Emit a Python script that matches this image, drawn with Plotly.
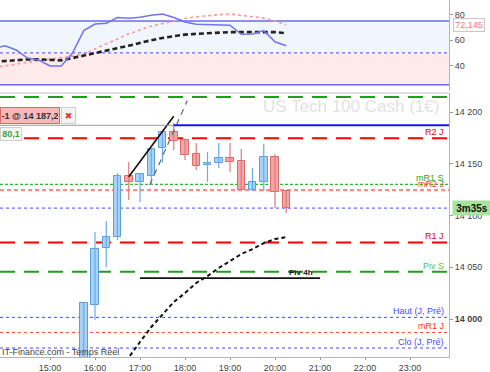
import plotly.graph_objects as go

DAY = "2023-06-20 "

# ---------------- data ----------------
candle_times = ["15:45", "16:00", "16:15", "16:30", "16:45", "17:00", "17:15", "17:30", "17:45",
                "18:00", "18:15", "18:30", "18:45", "19:00", "19:15", "19:30", "19:45", "20:00", "20:15"]
candle_open = [13945, 14013.5, 14068.6, 14079, 14138.2, 14132.4, 14138.2, 14165.2, 14180.7,
               14173, 14159.4, 14148.8, 14150.7, 14155.6, 14152.7, 14124.6, 14132.4, 14156.5, 14123.7]
candle_high = [14016, 14084, 14094.7, 14141, 14151.7, 14140.5, 14164.5, 14181.2, 14189.4,
               14173.5, 14170, 14161.4, 14170, 14170, 14164.3, 14145.9, 14169, 14159.4, 14123.7]
candle_low = [13940, 13999, 14050.2, 14076.3, 14115, 14113, 14129.5, 14150.7, 14163.3,
              14153.6, 14144, 14132.4, 14145.9, 14142, 14124.6, 14123.7, 14123.7, 14107.2, 14102.4]
candle_close = [14015.5, 14067.6, 14079.2, 14138.2, 14132.4, 14140, 14164.3, 14180.7, 14172,
                14158.5, 14147.8, 14150.7, 14155.6, 14151.7, 14124.6, 14132.4, 14156.5, 14122.7, 14107.2]

ma_times = ["16:30", "16:45", "17:00", "17:15", "17:30", "17:45", "18:00", "18:15", "18:30",
            "18:45", "19:00", "19:15", "19:30", "19:45", "20:00", "20:15"]
ma_values = [13948, 13963.5, 13977.8, 13992.3, 14003.9, 14016.4, 14025.1, 14034.8, 14041.5,
             14049.3, 14056, 14062.8, 14067.6, 14073.4, 14077.3, 14079.2]

rsi_times = ["13:45", "14:00", "14:15", "14:30", "14:45", "15:00", "15:15", "15:30", "15:45",
             "16:00", "16:15", "16:30", "16:45", "17:00", "17:15", "17:30", "17:45", "18:00",
             "18:15", "18:30", "18:45", "19:00", "19:15", "19:30", "19:45", "20:00", "20:15"]
rsi_values = [53.5, 55.7, 52.3, 46, 44.5, 39.8, 39.8, 50, 67.5,
              72.7, 73.3, 77.8, 77.2, 78, 79.6, 80.5, 77.8, 74.3,
              72.5, 72.2, 72, 71.8, 64.6, 64.8, 67.5, 58.8, 55.7]
rsi_signal = [38.5, 40, 41.5, 42.8, 44, 45, 46, 47.5, 49.3,
              53, 57.3, 61, 65, 68.3, 71, 73, 75, 77,
              78.3, 79.4, 80, 80.5, 79.5, 78.6, 77.3, 75, 72.145]
rsi_slow = [43, 43.6, 44.5, 45, 45, 44.8, 44.2, 46, 47.8,
            49.8, 51.7, 53.8, 55.7, 58, 60, 61.8, 63.2, 64.4,
            65, 65.6, 66, 66.3, 66.3, 66.4, 66.7, 66.3, 65.5]

level_names = ["R1 S", "R2 J", "mR1 S", "mR2 J", "", "R1 J", "Piv S", "Haut (J, Pré)", "mR1 J", "Clo (J, Pré)"]
level_values = [14214.5, 14174.6, 14130.1, 14124.6, 14107.2, 14074, 14045.7, 14001.6, 13987, 13972]

order_price = 14187.2
order_time = "17:45"
trend_times = ["16:45", "17:45"]
trend_prices = [14137.5, 14196]
dash_times = ["17:13", "18:03"]
dash_prices = [14129.5, 14211]
piv4h_times = ["17:00", "21:00"]
piv4h_price = 14039.5

price_ticks = [14000, 14050, 14100, 14150, 14200]
price_tick_text = ["<b>14 000</b>", "14 050", "14 100", "14 150", "14 200"]
rsi_ticks = [40, 60, 80]
hour_ticks = ["15:00", "16:00", "17:00", "18:00", "19:00", "20:00", "21:00", "22:00", "23:00"]

# ---------------- styles ----------------
level_styles = [
    dict(color="#1f9e1f", width=2, dash="15px,9px"),
    dict(color="#ff0000", width=2, dash="15px,9px"),
    dict(color="#33b533", width=1.3, dash="3px,2px"),
    dict(color="#ff8a8a", width=2.2, dash="4px,3px"),
    dict(color="#4646ff", width=1, dash="3px,3px"),
    dict(color="#ff0000", width=2, dash="15px,9px"),
    dict(color="#1f9e1f", width=2, dash="15px,9px"),
    dict(color="#4646ff", width=1, dash="3px,3px"),
    dict(color="#ff4a4a", width=1, dash="3px,3px"),
    dict(color="#4646ff", width=1, dash="3px,3px"),
]
label_colors = ["#3a3", "#e00000", "#2fa02f", "#ff4040", "#000", "#e00000", "#5cc05c", "#4a4aff", "#ff3030", "#4a4aff"]

FONT = "Liberation Sans, Arial, sans-serif"
W, H = 490, 372
ML, MR, MT, MB = 0, 41, 0, 15
PH = H - MT - MB
MAIN_TOP = 93
RSI_BOT = 91


def T(s):
    return DAY + s


def py(pix):
    return (H - MB - pix) / PH


fig = go.Figure()

# RSI panel traces
fig.add_trace(go.Scatter(x=[T(t) for t in rsi_times], y=rsi_signal, mode="lines",
                         line=dict(color="#f39a9a", width=1.6, dash="3px,3px"),
                         xaxis="x2", yaxis="y2", hoverinfo="skip"))
fig.add_trace(go.Scatter(x=[T(t) for t in rsi_times], y=rsi_slow, mode="lines",
                         line=dict(color="#222", width=2.6, dash="5px,3px"),
                         xaxis="x2", yaxis="y2", hoverinfo="skip"))
fig.add_trace(go.Scatter(x=[T(t) for t in rsi_times], y=rsi_values, mode="lines",
                         line=dict(color="#7272f5", width=1.5),
                         xaxis="x2", yaxis="y2", hoverinfo="skip"))

# candle wicks
up_idx = [i for i in range(len(candle_times)) if candle_close[i] >= candle_open[i]]
dn_idx = [i for i in range(len(candle_times)) if candle_close[i] < candle_open[i]]
for idx, col in ((up_idx, "#6aaae8"), (dn_idx, "#e07a7a")):
    wx, wy = [], []
    for i in idx:
        wx += [T(candle_times[i]), T(candle_times[i]), None]
        wy += [candle_low[i], candle_high[i], None]
    fig.add_trace(go.Scatter(x=wx, y=wy, mode="lines", line=dict(color=col, width=1.2),
                             hoverinfo="skip"))

# candle bodies
for idx, fill, border in ((up_idx, "#a9d3f6", "#5a9fe0"), (dn_idx, "#f5a5a5", "#dd6b6b")):
    bx = [T(candle_times[i]) for i in idx]
    base = [min(candle_open[i], candle_close[i]) for i in idx]
    hgt = [max(abs(candle_close[i] - candle_open[i]), 1.2) for i in idx]
    fig.add_trace(go.Bar(x=bx, y=hgt, base=base, width=600000,
                         marker=dict(color=fill, line=dict(color=border, width=1)),
                         hoverinfo="skip"))

# moving average (dotted black)
fig.add_trace(go.Scatter(x=[T(t) for t in ma_times], y=ma_values, mode="lines",
                         line=dict(color="#111", width=2, dash="4px,3px"), hoverinfo="skip"))

# trend lines
fig.add_trace(go.Scatter(x=[T(t) for t in trend_times], y=trend_prices, mode="lines",
                         line=dict(color="#111", width=1.6), hoverinfo="skip"))
fig.add_trace(go.Scatter(x=[T(t) for t in dash_times], y=dash_prices, mode="lines",
                         line=dict(color="#666", width=1.2, dash="6px,5px"), hoverinfo="skip"))
fig.add_trace(go.Scatter(x=[T(t) for t in piv4h_times], y=[piv4h_price, piv4h_price], mode="lines",
                         line=dict(color="#111", width=1.8), hoverinfo="skip"))

# order line (gray to the left, blue to the right)
fig.add_trace(go.Scatter(x=[T("13:50"), T(order_time)], y=[order_price, order_price], mode="lines",
                         line=dict(color="#9a9a9a", width=1), hoverinfo="skip"))
fig.add_trace(go.Scatter(x=[T(order_time), T("23:55")], y=[order_price, order_price], mode="lines",
                         line=dict(color="#1515f0", width=2), hoverinfo="skip"))

shapes = []
# RSI zones
shapes.append(dict(type="rect", xref="paper", yref="y2", x0=0, x1=1, y0=50, y1=75,
                   fillcolor="#f1f6fd", line=dict(width=0), layer="below"))
shapes.append(dict(type="rect", xref="paper", yref="y2", x0=0, x1=1, y0=25, y1=50,
                   fillcolor="#fdebeb", line=dict(width=0), layer="below"))
for lv, dsh in ((75, "solid"), (25, "solid"), (50, "3px,3px")):
    shapes.append(dict(type="line", xref="paper", yref="y2", x0=0, x1=1, y0=lv, y1=lv,
                       line=dict(color="#6a6af0", width=1.5 if dsh == "solid" else 1.2, dash=dsh),
                       layer="below"))
# separator
shapes.append(dict(type="line", xref="paper", yref="paper", x0=0, x1=1,
                   y0=py(MAIN_TOP), y1=py(MAIN_TOP), line=dict(color="#d6d6d6", width=1.5)))
# level lines
for val, st in zip(level_values, level_styles):
    shapes.append(dict(type="line", xref="paper", yref="y", x0=0, x1=1, y0=val, y1=val,
                       line=st, layer="below"))

annotations = []
# watermark
annotations.append(dict(xref="paper", yref="paper", x=441 / 449, y=py(106), xanchor="right",
                        yanchor="middle", text="US Tech 100 Cash (1€)", showarrow=False,
                        font=dict(family=FONT, size=17, color="#e2e2e2")))
# level labels
for name, val, col in zip(level_names[1:], level_values[1:], label_colors[1:]):
    if not name:
        continue
    annotations.append(dict(xref="paper", yref="y", x=446 / 449, y=val, xanchor="right",
                            yanchor="middle", yshift=6, text=name, showarrow=False,
                            font=dict(family=FONT, size=9, color=col)))
# Piv 4h label
annotations.append(dict(xref="x", yref="y", x=T("20:35"), y=piv4h_price, xanchor="center",
                        yanchor="middle", yshift=6, text="<b>Piv 4h</b>", showarrow=False,
                        font=dict(family=FONT, size=8, color="#111")))
# order label boxes
annotations.append(dict(xref="paper", yref="paper", x=0, y=py(115.5), xanchor="left", yanchor="middle",
                        text="<b>-1 @ 14 187,2</b>", showarrow=False, width=56, height=13,
                        bgcolor="#f6b8b8", bordercolor="#d86a6a", borderwidth=1, borderpad=1,
                        font=dict(family=FONT, size=9, color="#333")))
annotations.append(dict(xref="paper", yref="paper", x=61 / 449, y=py(115.5), xanchor="left", yanchor="middle",
                        text="✖", showarrow=False, width=11, height=13,
                        bgcolor="#f2f2f2", bordercolor="#cfcfcf", borderwidth=1, borderpad=1,
                        font=dict(family="DejaVu Sans", size=9, color="#e03030")))
annotations.append(dict(xref="paper", yref="paper", x=0, y=py(134), xanchor="left", yanchor="middle",
                        text="<b>80,1</b>", showarrow=False, width=18, height=10,
                        bgcolor="#f7f7f7", bordercolor="#cfcfcf", borderwidth=1, borderpad=1,
                        font=dict(family=FONT, size=9, color="#3aa33a")))
# countdown box
annotations.append(dict(xref="paper", yref="y", x=452 / 449, y=candle_close[-1], xanchor="left",
                        yanchor="middle", text="<b>3m35s</b>", showarrow=False, width=36, height=12,
                        bgcolor="#a8e4a0", borderpad=1,
                        font=dict(family=FONT, size=10, color="#111")))
# RSI value box
annotations.append(dict(xref="paper", yref="y2", x=453 / 449, y=rsi_signal[-1], xanchor="left",
                        yanchor="middle", text="72,145", showarrow=False, width=28, height=10,
                        bgcolor="#fbfbfb", bordercolor="#c8c8c8", borderwidth=1, borderpad=1,
                        font=dict(family=FONT, size=9, color="#ef7d7d")))
# footer
annotations.append(dict(xref="paper", yref="paper", x=0, y=py(352), xanchor="left", yanchor="middle",
                        text="IT-Finance.com - Temps Réel", showarrow=False,
                        font=dict(family=FONT, size=9, color="#444")))

x_range = [T("13:53:20"), T("23:52")]
main_dom = [0, py(MAIN_TOP)]
rsi_dom = [py(RSI_BOT), 1]

fig.update_layout(
    template="none",
    width=W, height=H,
    margin=dict(l=ML, r=MR, t=MT, b=MB, pad=0),
    paper_bgcolor="white", plot_bgcolor="white",
    showlegend=False, barmode="overlay", bargap=0,
    font=dict(family=FONT, size=9, color="#444"),
    xaxis=dict(domain=[0, 1], anchor="y", type="date", range=x_range, automargin=False,
               tickvals=[T(h) for h in hour_ticks], ticktext=hour_ticks,
               ticks="outside", ticklen=2, tickcolor="#999", showgrid=False, zeroline=False,
               showline=True, linecolor="#b5b5b5", linewidth=1,
               tickfont=dict(family=FONT, size=9, color="#444")),
    xaxis2=dict(domain=[0, 1], anchor="y2", type="date", matches="x", range=x_range, automargin=False,
                showticklabels=False, ticks="", showgrid=False, zeroline=False, showline=False),
    yaxis=dict(domain=main_dom, anchor="x", side="right", range=[13963.3, 14218.4], automargin=False,
               tickvals=price_ticks, ticktext=price_tick_text, ticks="outside", ticklen=3,
               tickcolor="#999", showgrid=False, zeroline=False, showline=True,
               linecolor="#b5b5b5", linewidth=1,
               tickfont=dict(family=FONT, size=9, color="#444")),
    yaxis2=dict(domain=rsi_dom, anchor="x2", side="right", range=[20.2, 91.5], automargin=False,
                tickvals=rsi_ticks, ticks="outside", ticklen=3, tickcolor="#999",
                showgrid=False, zeroline=False, showline=True, linecolor="#b5b5b5", linewidth=1,
                tickfont=dict(family=FONT, size=9, color="#444")),
    shapes=shapes,
    annotations=annotations,
)

fig.write_html("out.html", config={"displayModeBar": False},
               post_script="document.body.style.margin='0';")
